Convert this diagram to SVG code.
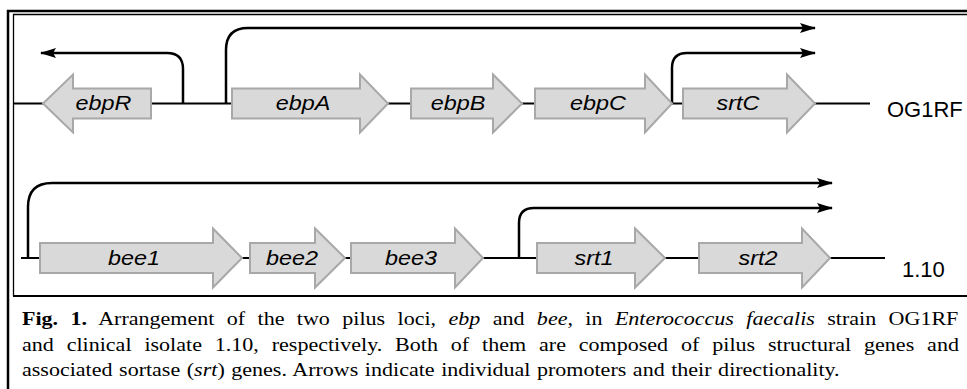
<svg xmlns="http://www.w3.org/2000/svg" width="967" height="389" viewBox="0 0 967 389">
<style>
.gene{fill:#d9d9d9;stroke:#a8a8a8;stroke-width:2;stroke-linejoin:miter}
.bb{fill:none;stroke:#000;stroke-width:2}
.prom{fill:none;stroke:#000;stroke-width:2.5}
.lbl{font-family:"Liberation Sans",Arial,sans-serif;font-style:italic;font-size:20px;fill:#000;text-anchor:middle}
.strain{font-family:"Liberation Sans",Arial,sans-serif;font-size:22px;fill:#000}
.cap{font-family:"Liberation Serif","Times New Roman",serif;font-size:19px;fill:#000}
.frame{fill:none;stroke:#000}
</style>
<defs>
<marker id="ah" viewBox="0 0 16 10" refX="15" refY="5" markerWidth="16" markerHeight="10" markerUnits="userSpaceOnUse" orient="auto">
<path d="M0,0 L16,5 L0,10 L3,5 Z" fill="#000"/>
</marker>
</defs>
<g id="frame">
<path class="frame" d="M8,389 V11 H967" stroke-width="2.5"/>
<path class="frame" d="M13.5,296 V14.5 H967" stroke-width="1.3"/>
<path class="frame" d="M13,296 H967" stroke-width="2"/>
</g>
<g id="connectors">
<path class="bb" d="M13,103.5 H43 M151,103.5 H232 M388,103.5 H411 M522,103.5 H535 M672,103.5 H683 M815,103.5 H870"/>
<path class="bb" d="M21,258 H40 M242,258 H250 M345,258 H351 M483,258 H537 M665,258 H699 M830,258 H885"/>
<path class="prom" d="M183,103.5 V69 Q183,53 167,53 H41" marker-end="url(#ah)"/>
<path class="prom" d="M226,103.5 V50 Q226,28 248,28 H815" marker-end="url(#ah)"/>
<path class="prom" d="M672,103.5 V68 Q672,53 687,53 H815" marker-end="url(#ah)"/>
<path class="prom" d="M28,258 V207 Q28,183 52,183 H832" marker-end="url(#ah)"/>
<path class="prom" d="M519,258 V223 Q519,208 534,208 H832" marker-end="url(#ah)"/>
</g>
<g id="ebpR">
<path class="gene" d="M151,88.5 H73 V74.5 L43,103.5 L73,132.5 V118.5 H151 Z"/>
<text class="lbl" transform="translate(103.5,109.5) scale(1.17,1)">ebpR</text>
</g>
<g id="ebpA">
<path class="gene" d="M232,88.5 H360 V74.5 L388,103.5 L360,132.5 V118.5 H232 Z"/>
<text class="lbl" transform="translate(303,109.5) scale(1.17,1)">ebpA</text>
</g>
<g id="ebpB">
<path class="gene" d="M411,88.5 H493 V74.5 L522,103.5 L493,132.5 V118.5 H411 Z"/>
<text class="lbl" transform="translate(458,109.5) scale(1.17,1)">ebpB</text>
</g>
<g id="ebpC">
<path class="gene" d="M535,88.5 H645 V74.5 L672,103.5 L645,132.5 V118.5 H535 Z"/>
<text class="lbl" transform="translate(598,109.5) scale(1.17,1)">ebpC</text>
</g>
<g id="srtC">
<path class="gene" d="M683,88.5 H787 V74.5 L815,103.5 L787,132.5 V118.5 H683 Z"/>
<text class="lbl" transform="translate(738,109.5) scale(1.17,1)">srtC</text>
</g>
<g id="OG1RF">
<text class="strain" x="887" y="117">OG1RF</text>
</g>
<g id="bee1">
<path class="gene" d="M40,243 H213 V228.5 L242,258 L213,287.5 V273 H40 Z"/>
<text class="lbl" transform="translate(134,265) scale(1.17,1)">bee1</text>
</g>
<g id="bee2">
<path class="gene" d="M250,243 H315 V228.5 L345,258 L315,287.5 V273 H250 Z"/>
<text class="lbl" transform="translate(292,265) scale(1.17,1)">bee2</text>
</g>
<g id="bee3">
<path class="gene" d="M351,243 H455 V228.5 L483,258 L455,287.5 V273 H351 Z"/>
<text class="lbl" transform="translate(411,265) scale(1.17,1)">bee3</text>
</g>
<g id="srt1">
<path class="gene" d="M537,243 H635 V228.5 L665,258 L635,287.5 V273 H537 Z"/>
<text class="lbl" transform="translate(594,265) scale(1.17,1)">srt1</text>
</g>
<g id="srt2">
<path class="gene" d="M699,243 H802 V228.5 L830,258 L802,287.5 V273 H699 Z"/>
<text class="lbl" transform="translate(758,265) scale(1.17,1)">srt2</text>
</g>
<g id="s110">
<text class="strain" x="902" y="277">1.10</text>
</g>
<g id="caption" transform="translate(22,0) scale(1.16,1)">
<text class="cap" x="0" y="325.5" word-spacing="5.94"><tspan font-weight="bold">Fig. 1.</tspan> Arrangement of the two pilus loci, <tspan font-style="italic">ebp</tspan> and <tspan font-style="italic">bee</tspan>, in <tspan font-style="italic">Enterococcus faecalis</tspan> strain OG1RF</text>
<text class="cap" x="0" y="351" word-spacing="6.37">and clinical isolate 1.10, respectively. Both of them are composed of pilus structural genes and</text>
<text class="cap" x="0" y="376.5" word-spacing="0.9">associated sortase (<tspan font-style="italic">srt</tspan>) genes. Arrows indicate individual promoters and their directionality.</text>
</g>
</svg>
